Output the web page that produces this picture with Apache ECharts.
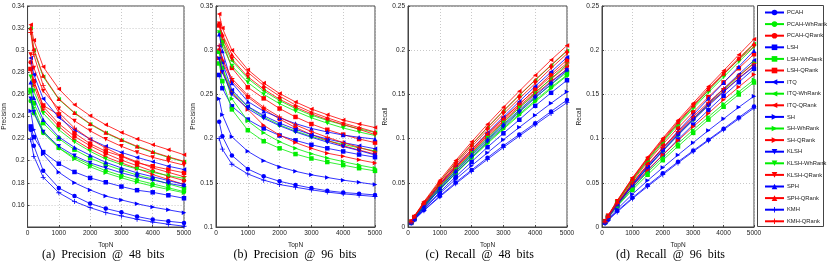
<!DOCTYPE html>
<html><head><meta charset="utf-8">
<script src="https://cdn.jsdelivr.net/npm/echarts@6/dist/echarts.min.js"></script>
<style>html,body{margin:0;padding:0;background:#fff}#c{width:830px;height:269px}</style>
</head><body><div id="c"></div>
<script>
const topN = [100,200,500,1000,1500,2000,2500,3000,3500,4000,4500,5000];
const methods = ['PCAH','PCAH-WhRank','PCAH-QRank','LSH','LSH-WhRank','LSH-QRank','ITQ','ITQ-WhRank','ITQ-QRank','SH','SH-WhRank','SH-QRank','KLSH','KLSH-WhRank','KLSH-QRank','SPH','SPH-QRank','KMH','KMH-QRank'];
const captions = ['(a)  Precision  @  48  bits','(b)  Precision  @  96  bits','(c)  Recall  @  48  bits','(d)  Recall  @  96  bits'];

// (a) Precision @ 48 bits
const p48_PCAH   = [0.228,0.2136,0.191,0.1753,0.168,0.1612,0.1567,0.1533,0.1495,0.1467,0.1452,0.1437];
const p48_PCAH_W = [0.254,0.243,0.225,0.2115,0.203,0.1965,0.191,0.1865,0.1825,0.179,0.1755,0.172];
const p48_PCAH_Q = [0.289,0.272,0.249,0.2335,0.222,0.2135,0.2065,0.2005,0.1955,0.1905,0.186,0.182];
const p48_LSH    = [0.231,0.2214,0.2078,0.1973,0.1898,0.1844,0.1805,0.1766,0.1733,0.1714,0.1687,0.166];
const p48_LSH_W  = [0.264,0.252,0.234,0.220,0.210,0.2025,0.1965,0.1915,0.187,0.1835,0.179,0.175];
const p48_LSH_Q  = [0.283,0.272,0.250,0.2415,0.225,0.2154,0.2085,0.204,0.198,0.195,0.192,0.189];
const p48_ITQ    = [0.293,0.278,0.256,0.239,0.228,0.2195,0.213,0.2075,0.203,0.199,0.195,0.192];
const p48_ITQ_W  = [0.320,0.300,0.276,0.2555,0.243,0.233,0.225,0.2185,0.2125,0.2075,0.203,0.199];
const p48_ITQ_Q  = [0.323,0.309,0.285,0.265,0.2506,0.2407,0.2325,0.2256,0.2196,0.2145,0.21,0.2054];
const p48_SH     = [0.245,0.228,0.206,0.1895,0.180,0.1735,0.168,0.1645,0.161,0.158,0.1555,0.153];
const p48_SH_W   = [0.262,0.248,0.227,0.2115,0.2015,0.1945,0.189,0.1845,0.1805,0.177,0.174,0.171];
const p48_SH_Q   = [0.283,0.268,0.246,0.231,0.219,0.2105,0.2035,0.198,0.193,0.1875,0.183,0.1785];
const p48_KLSH   = [0.256,0.244,0.226,0.213,0.2045,0.198,0.1935,0.189,0.1855,0.1825,0.1795,0.177];
const p48_KLSH_W = [0.276,0.263,0.243,0.228,0.217,0.2085,0.2015,0.1965,0.1925,0.1895,0.1865,0.184];
const p48_KLSH_Q = [0.296,0.284,0.263,0.247,0.236,0.227,0.2195,0.213,0.2075,0.203,0.1995,0.196];
const p48_SPH    = [0.271,0.257,0.237,0.2215,0.212,0.205,0.1985,0.1935,0.189,0.1855,0.182,0.1785];
const p48_SPH_Q  = [0.320,0.301,0.277,0.256,0.2435,0.2335,0.2255,0.219,0.213,0.208,0.2035,0.1995];
const p48_KMH    = [0.219,0.204,0.185,0.171,0.163,0.1575,0.153,0.150,0.147,0.1445,0.1425,0.1407];
const p48_KMH_Q  = [0.316,0.296,0.268,0.2435,0.2295,0.2195,0.2115,0.2045,0.199,0.1935,0.1895,0.1855];

// (b) Precision @ 96 bits
const p96_PCAH   = [0.219,0.2026,0.181,0.1656,0.1574,0.1517,0.1476,0.144,0.141,0.139,0.1377,0.1363];
const p96_PCAH_W = [0.298,0.28,0.253,0.236,0.2245,0.2155,0.2085,0.2025,0.1975,0.1935,0.1895,0.186];
const p96_PCAH_Q = [0.3,0.287,0.265,0.247,0.2335,0.222,0.2125,0.2045,0.198,0.192,0.187,0.1825];
const p96_LSH    = [0.272,0.257,0.2365,0.2215,0.2115,0.2035,0.198,0.193,0.189,0.1855,0.182,0.179];
const p96_LSH_W  = [0.285,0.265,0.233,0.2095,0.197,0.189,0.1825,0.1775,0.1735,0.17,0.1665,0.1635];
const p96_LSH_Q  = [0.328,0.31,0.28,0.258,0.2455,0.234,0.2245,0.2165,0.21,0.2045,0.1995,0.1955];
const p96_ITQ    = [0.305,0.286,0.255,0.2365,0.226,0.2175,0.2105,0.2045,0.1995,0.1955,0.192,0.1885];
const p96_ITQ_W  = [0.32,0.31,0.288,0.268,0.254,0.243,0.234,0.2265,0.2205,0.2155,0.211,0.207];
const p96_ITQ_Q  = [0.341,0.325,0.3,0.278,0.263,0.251,0.2415,0.2335,0.227,0.221,0.2165,0.2125];
const p96_SH     = [0.245,0.227,0.202,0.1856,0.175,0.168,0.163,0.159,0.156,0.153,0.1505,0.148];
const p96_SH_W   = [0.298,0.28,0.245,0.22,0.2065,0.1965,0.189,0.183,0.178,0.174,0.17,0.1665];
const p96_SH_Q   = [0.291,0.276,0.252,0.233,0.215,0.204,0.1955,0.189,0.1835,0.18,0.176,0.1725];
const p96_KLSH   = [0.29,0.275,0.25,0.234,0.223,0.2145,0.2075,0.2015,0.196,0.191,0.1865,0.1815];
const p96_KLSH_W = [0.32,0.305,0.282,0.2635,0.25,0.2395,0.231,0.2235,0.2175,0.212,0.2075,0.2035];
const p96_KLSH_Q = [0.33,0.315,0.29,0.27,0.256,0.2445,0.2355,0.228,0.2215,0.216,0.2105,0.2045];
const p96_SPH    = [0.318,0.299,0.263,0.242,0.231,0.2235,0.217,0.2115,0.2075,0.204,0.2015,0.1995];
const p96_SPH_Q  = [0.33,0.318,0.295,0.275,0.26,0.248,0.238,0.23,0.2235,0.2175,0.2125,0.2075];
const p96_KMH    = [0.2,0.188,0.171,0.16,0.153,0.148,0.145,0.142,0.1395,0.1375,0.136,0.1345];
const p96_KMH_Q  = [0.305,0.29,0.268,0.249,0.2355,0.2245,0.2155,0.208,0.2015,0.1955,0.19,0.185];

// (c) Recall @ 48 bits
const r48_PCAH   = [0.0046,0.0085,0.0191,0.0351,0.0504,0.0645,0.0784,0.092,0.1047,0.1174,0.1307,0.1437];
const r48_PCAH_W = [0.0051,0.0097,0.0225,0.0423,0.0609,0.0786,0.0955,0.1119,0.1278,0.1432,0.158,0.172];
const r48_PCAH_Q = [0.0058,0.0109,0.0249,0.0467,0.0666,0.0854,0.1033,0.1203,0.1369,0.1524,0.1674,0.182];
const r48_LSH    = [0.0046,0.0089,0.0208,0.0395,0.0569,0.0738,0.0903,0.106,0.1213,0.1371,0.1518,0.166];
const r48_LSH_W  = [0.0053,0.0101,0.0234,0.044,0.063,0.081,0.0983,0.1149,0.1309,0.1468,0.1611,0.175];
const r48_LSH_Q  = [0.0057,0.0109,0.025,0.0483,0.0675,0.0862,0.1043,0.1224,0.1386,0.156,0.1728,0.189];
const r48_ITQ    = [0.0059,0.0111,0.0256,0.0478,0.0684,0.0878,0.1065,0.1245,0.1421,0.1592,0.1755,0.192];
const r48_ITQ_W  = [0.0064,0.012,0.0276,0.0511,0.0729,0.0932,0.1125,0.1311,0.1488,0.166,0.1827,0.199];
const r48_ITQ_Q  = [0.0065,0.0124,0.0285,0.053,0.0752,0.0963,0.1163,0.1354,0.1537,0.1716,0.189,0.2054];
const r48_SH     = [0.0049,0.0091,0.0206,0.0379,0.054,0.0694,0.084,0.0987,0.1127,0.1264,0.14,0.153];
const r48_SH_W   = [0.0052,0.0099,0.0227,0.0423,0.0605,0.0778,0.0945,0.1107,0.1264,0.1416,0.1566,0.171];
const r48_SH_Q   = [0.0057,0.0107,0.0246,0.0462,0.0657,0.0842,0.1018,0.1188,0.1351,0.15,0.1647,0.1785];
const r48_KLSH   = [0.0051,0.0098,0.0226,0.0426,0.0614,0.0792,0.0968,0.1134,0.1299,0.146,0.1616,0.177];
const r48_KLSH_W = [0.0055,0.0105,0.0243,0.0456,0.0651,0.0834,0.1008,0.1179,0.1348,0.1516,0.1679,0.184];
const r48_KLSH_Q = [0.0059,0.0114,0.0263,0.0494,0.0708,0.0908,0.1098,0.1278,0.1453,0.1624,0.1796,0.196];
const r48_SPH    = [0.0054,0.0103,0.0237,0.0443,0.0636,0.082,0.0993,0.1161,0.1323,0.1484,0.1638,0.1785];
const r48_SPH_Q  = [0.0064,0.012,0.0277,0.0512,0.0731,0.0934,0.1128,0.1314,0.1491,0.1664,0.1832,0.1995];
const r48_KMH    = [0.0044,0.0082,0.0185,0.0342,0.0489,0.063,0.0765,0.09,0.1029,0.1156,0.1283,0.1407];
const r48_KMH_Q  = [0.0063,0.0118,0.0268,0.0487,0.0689,0.0878,0.1058,0.1227,0.1393,0.1548,0.1706,0.1855];

// (d) Recall @ 96 bits
const r96_PCAH   = [0.0044,0.0081,0.0181,0.0331,0.0472,0.0607,0.0738,0.0864,0.0987,0.1112,0.1239,0.1363];
const r96_PCAH_W = [0.006,0.0112,0.0253,0.0472,0.0674,0.0862,0.1043,0.1215,0.1383,0.1548,0.1706,0.186];
const r96_PCAH_Q = [0.006,0.0115,0.0265,0.0494,0.0701,0.0888,0.1063,0.1227,0.1386,0.1536,0.1683,0.1825];
const r96_LSH    = [0.0054,0.0103,0.0237,0.0443,0.0635,0.0814,0.099,0.1158,0.1323,0.1484,0.1638,0.179];
const r96_LSH_W  = [0.0057,0.0106,0.0233,0.0419,0.0591,0.0756,0.0913,0.1065,0.1215,0.136,0.1499,0.1635];
const r96_LSH_Q  = [0.0066,0.0124,0.028,0.0516,0.0737,0.0936,0.1123,0.1299,0.147,0.1636,0.1796,0.1955];
const r96_ITQ    = [0.0061,0.0114,0.0255,0.0473,0.0678,0.087,0.1053,0.1227,0.1397,0.1564,0.1728,0.1885];
const r96_ITQ_W  = [0.0064,0.0124,0.0288,0.0536,0.0762,0.0972,0.117,0.1359,0.1544,0.1724,0.1899,0.207];
const r96_ITQ_Q  = [0.0068,0.013,0.03,0.0556,0.0789,0.1004,0.1208,0.1401,0.1589,0.1768,0.1949,0.2125];
const r96_SH     = [0.0049,0.0091,0.0202,0.0371,0.0525,0.0672,0.0815,0.0954,0.1092,0.1224,0.1355,0.148];
const r96_SH_W   = [0.006,0.0112,0.0245,0.044,0.062,0.0786,0.0945,0.1098,0.1246,0.1392,0.153,0.1665];
const r96_SH_Q   = [0.0058,0.011,0.0252,0.0466,0.0645,0.0816,0.0978,0.1134,0.1285,0.144,0.1584,0.1725];
const r96_KLSH   = [0.0058,0.011,0.025,0.0468,0.0669,0.0858,0.1038,0.1209,0.1372,0.1528,0.1679,0.1815];
const r96_KLSH_W = [0.0064,0.0122,0.0282,0.0527,0.075,0.0958,0.1155,0.1341,0.1523,0.1696,0.1868,0.2035];
const r96_KLSH_Q = [0.0066,0.0126,0.029,0.054,0.0768,0.0978,0.1178,0.1368,0.1551,0.1728,0.1895,0.2045];
const r96_SPH    = [0.0064,0.012,0.0263,0.0484,0.0693,0.0894,0.1085,0.1269,0.1453,0.1632,0.1814,0.1995];
const r96_SPH_Q  = [0.0066,0.0127,0.0295,0.055,0.078,0.0992,0.119,0.138,0.1565,0.174,0.1913,0.2075];
const r96_KMH    = [0.004,0.0075,0.0171,0.032,0.0459,0.0592,0.0725,0.0852,0.0977,0.11,0.1224,0.1345];
const r96_KMH_Q  = [0.0061,0.0116,0.0268,0.0498,0.0707,0.0898,0.1078,0.1248,0.1411,0.1564,0.171,0.185];

const panels = [
  [p48_PCAH,p48_PCAH_W,p48_PCAH_Q,p48_LSH,p48_LSH_W,p48_LSH_Q,p48_ITQ,p48_ITQ_W,p48_ITQ_Q,p48_SH,p48_SH_W,p48_SH_Q,p48_KLSH,p48_KLSH_W,p48_KLSH_Q,p48_SPH,p48_SPH_Q,p48_KMH,p48_KMH_Q],
  [p96_PCAH,p96_PCAH_W,p96_PCAH_Q,p96_LSH,p96_LSH_W,p96_LSH_Q,p96_ITQ,p96_ITQ_W,p96_ITQ_Q,p96_SH,p96_SH_W,p96_SH_Q,p96_KLSH,p96_KLSH_W,p96_KLSH_Q,p96_SPH,p96_SPH_Q,p96_KMH,p96_KMH_Q],
  [r48_PCAH,r48_PCAH_W,r48_PCAH_Q,r48_LSH,r48_LSH_W,r48_LSH_Q,r48_ITQ,r48_ITQ_W,r48_ITQ_Q,r48_SH,r48_SH_W,r48_SH_Q,r48_KLSH,r48_KLSH_W,r48_KLSH_Q,r48_SPH,r48_SPH_Q,r48_KMH,r48_KMH_Q],
  [r96_PCAH,r96_PCAH_W,r96_PCAH_Q,r96_LSH,r96_LSH_W,r96_LSH_Q,r96_ITQ,r96_ITQ_W,r96_ITQ_Q,r96_SH,r96_SH_W,r96_SH_Q,r96_KLSH,r96_KLSH_W,r96_KLSH_Q,r96_SPH,r96_SPH_Q,r96_KMH,r96_KMH_Q]
];

// styling
const BLUE='#0000ff', GREEN='#00ee00', RED='#ff0000';
const PLUS='path://M0,4.2L10,4.2L10,5.8L0,5.8Z M4.2,0L5.8,0L5.8,10L4.2,10Z';
const styles = {
  'PCAH':[BLUE,'circle',0],'PCAH-WhRank':[GREEN,'circle',0],'PCAH-QRank':[RED,'circle',0],
  'LSH':[BLUE,'rect',0],'LSH-WhRank':[GREEN,'rect',0],'LSH-QRank':[RED,'rect',0],
  'ITQ':[BLUE,'triangle',90],'ITQ-WhRank':[GREEN,'triangle',90],'ITQ-QRank':[RED,'triangle',90],
  'SH':[BLUE,'triangle',-90],'SH-WhRank':[GREEN,'triangle',-90],'SH-QRank':[RED,'triangle',-90],
  'KLSH':[BLUE,'triangle',180],'KLSH-WhRank':[GREEN,'triangle',180],'KLSH-QRank':[RED,'triangle',180],
  'SPH':[BLUE,'triangle',0],'SPH-QRank':[RED,'triangle',0],
  'KMH':[BLUE,PLUS,0],'KMH-QRank':[RED,PLUS,0]
};
const gridsPos = [
  {left:24,top:6,width:160,height:221},
  {left:216,top:6,width:159,height:221},
  {left:408,top:6,width:159,height:221},
  {left:602,top:6,width:152,height:221}
];
const yCfg = [
  {min:0.14,max:0.34,interval:0.02,name:'Precision',showMin:false},
  {min:0.1,max:0.35,interval:0.05,name:'Precision',showMin:true},
  {min:0,max:0.25,interval:0.05,name:'Recall',showMin:true},
  {min:0,max:0.25,interval:0.05,name:'Recall',showMin:true}
];
const FONT='Liberation Sans';
const lab = {fontFamily:FONT,fontSize:6.5,color:'#222'};
const grid=[],xAxis=[],yAxis=[],series=[],graphic=[];
gridsPos.forEach((g,i)=>{
  grid.push(Object.assign({show:true,borderColor:'#444',borderWidth:1,backgroundColor:'#fff'},g));
  xAxis.push({type:'value',gridIndex:i,min:0,max:5000,interval:1000,name:'TopN',nameLocation:'middle',nameGap:9,
    nameTextStyle:lab,axisLabel:Object.assign({margin:3,formatter:v=>String(v)},lab),
    axisLine:{lineStyle:{color:'#444'}},axisTick:{inside:true,length:2,lineStyle:{color:'#444'}},
    splitLine:{show:true,lineStyle:{type:[1,2],color:'#bbb',width:0.8}}});
  const yc=yCfg[i];
  yAxis.push({type:'value',gridIndex:i,min:yc.min,max:yc.max,interval:yc.interval,name:yc.name,nameLocation:'middle',nameGap:15,
    nameTextStyle:lab,axisLabel:Object.assign({margin:3,showMinLabel:yc.showMin,formatter:v=>String(+v.toFixed(3))},lab),
    axisLine:{lineStyle:{color:'#444'}},axisTick:{inside:true,length:2,lineStyle:{color:'#444'}},
    splitLine:{show:true,lineStyle:{type:[1,2],color:'#bbb',width:0.8}}});
  methods.forEach((m,k)=>{
    const s=styles[m];
    series.push({type:'line',name:m,xAxisIndex:i,yAxisIndex:i,
      data:topN.map((x,j)=>[x,panels[i][k][j]]),
      symbol:s[1],symbolRotate:s[2],symbolSize:s[1]===PLUS?5:4.5,showAllSymbol:true,
      lineStyle:{color:s[0],width:0.8},itemStyle:{color:s[0]},emphasis:{disabled:true},silent:true,z:2+k});
  });
  graphic.push({type:'text',left:g.left+g.width/2-62,top:249,style:{text:captions[i],font:'12px "Liberation Serif"',fill:'#000'}});
});
graphic.push({type:'rect',shape:{x:757.5,y:5.5,width:66,height:221},style:{fill:'#fff',stroke:'#444',lineWidth:1},z:-1});
const chart=echarts.init(document.getElementById('c'),null,{renderer:'canvas'});
chart.setOption({
  animation:false,
  grid,xAxis,yAxis,series,
  legend:{data:methods,orient:'vertical',left:759,top:4,itemWidth:19,itemHeight:7,itemGap:4.6,
    textStyle:{fontFamily:FONT,fontSize:5.8,lineHeight:7,color:'#222',padding:[0,0,0,-2]},selectedMode:false},
  graphic
});
</script></body></html>
